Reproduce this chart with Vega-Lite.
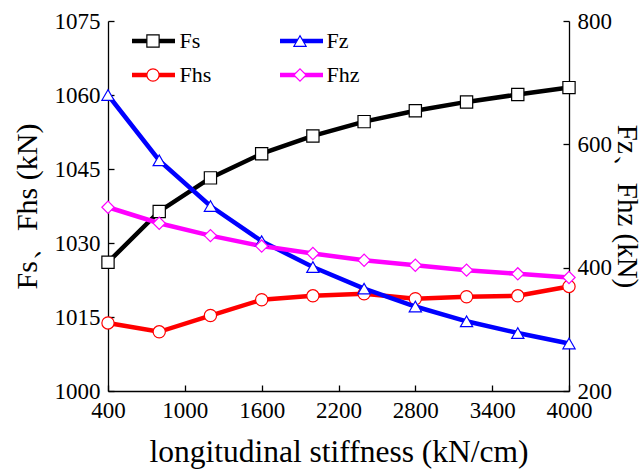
{
  "$schema": "https://vega.github.io/schema/vega-lite/v6.json",
  "width": 461,
  "height": 370,
  "autosize": {"type": "none"},
  "padding": {"left": 108, "top": 21, "right": 75, "bottom": 79},
  "background": "white",
  "config": {
    "view": {"stroke": null},
    "font": "Liberation Serif, Times New Roman, serif",
    "axis": {
      "grid": false,
      "domainColor": "black",
      "domainWidth": 1.3,
      "tickColor": "black",
      "tickWidth": 1.3,
      "tickSize": -6,
      "labelColor": "black",
      "labelFont": "Liberation Serif, Times New Roman, serif",
      "labelFontSize": 23,
      "labelPadding": 14,
      "labelFlush": false,
      "labelOverlap": false,
      "format": "d",
      "titleFont": "Liberation Serif, Times New Roman, serif",
      "titleFontSize": 30,
      "titleFontWeight": "normal",
      "titleColor": "black"
    }
  },
  "data": {
    "values": [
      {"stiffness": 400, "series": "Fs", "axis": "L", "value": 1026.1},
      {"stiffness": 800, "series": "Fs", "axis": "L", "value": 1036.4},
      {"stiffness": 1200, "series": "Fs", "axis": "L", "value": 1043.2},
      {"stiffness": 1600, "series": "Fs", "axis": "L", "value": 1048.1},
      {"stiffness": 2000, "series": "Fs", "axis": "L", "value": 1051.7},
      {"stiffness": 2400, "series": "Fs", "axis": "L", "value": 1054.6},
      {"stiffness": 2800, "series": "Fs", "axis": "L", "value": 1056.8},
      {"stiffness": 3200, "series": "Fs", "axis": "L", "value": 1058.6},
      {"stiffness": 3600, "series": "Fs", "axis": "L", "value": 1060.1},
      {"stiffness": 4000, "series": "Fs", "axis": "L", "value": 1061.5},
      {"stiffness": 400, "series": "Fhs", "axis": "L", "value": 1013.8},
      {"stiffness": 800, "series": "Fhs", "axis": "L", "value": 1012.0},
      {"stiffness": 1200, "series": "Fhs", "axis": "L", "value": 1015.3},
      {"stiffness": 1600, "series": "Fhs", "axis": "L", "value": 1018.5},
      {"stiffness": 2000, "series": "Fhs", "axis": "L", "value": 1019.3},
      {"stiffness": 2400, "series": "Fhs", "axis": "L", "value": 1019.7},
      {"stiffness": 2800, "series": "Fhs", "axis": "L", "value": 1018.7},
      {"stiffness": 3200, "series": "Fhs", "axis": "L", "value": 1019.1},
      {"stiffness": 3600, "series": "Fhs", "axis": "L", "value": 1019.3},
      {"stiffness": 4000, "series": "Fhs", "axis": "L", "value": 1021.2},
      {"stiffness": 400, "series": "Fz", "axis": "R", "value": 680},
      {"stiffness": 800, "series": "Fz", "axis": "R", "value": 574},
      {"stiffness": 1200, "series": "Fz", "axis": "R", "value": 500},
      {"stiffness": 1600, "series": "Fz", "axis": "R", "value": 443},
      {"stiffness": 2000, "series": "Fz", "axis": "R", "value": 401},
      {"stiffness": 2400, "series": "Fz", "axis": "R", "value": 366},
      {"stiffness": 2800, "series": "Fz", "axis": "R", "value": 337},
      {"stiffness": 3200, "series": "Fz", "axis": "R", "value": 313},
      {"stiffness": 3600, "series": "Fz", "axis": "R", "value": 294},
      {"stiffness": 4000, "series": "Fz", "axis": "R", "value": 277},
      {"stiffness": 400, "series": "Fhz", "axis": "R", "value": 498},
      {"stiffness": 800, "series": "Fhz", "axis": "R", "value": 472},
      {"stiffness": 1200, "series": "Fhz", "axis": "R", "value": 452},
      {"stiffness": 1600, "series": "Fhz", "axis": "R", "value": 435},
      {"stiffness": 2000, "series": "Fhz", "axis": "R", "value": 423},
      {"stiffness": 2400, "series": "Fhz", "axis": "R", "value": 412},
      {"stiffness": 2800, "series": "Fhz", "axis": "R", "value": 404},
      {"stiffness": 3200, "series": "Fhz", "axis": "R", "value": 396},
      {"stiffness": 3600, "series": "Fhz", "axis": "R", "value": 390},
      {"stiffness": 4000, "series": "Fhz", "axis": "R", "value": 384}
    ]
  },
  "encoding": {
    "x": {
      "field": "stiffness",
      "type": "quantitative",
      "scale": {"domain": [400, 4000], "nice": false, "zero": false},
      "axis": {
        "values": [400, 1000, 1600, 2200, 2800, 3400, 4000],
        "title": "longitudinal stiffness (kN/cm)",
        "titleFontSize": 31.5,
        "titlePadding": 14
      }
    }
  },
  "layer": [
    {
      "transform": [{"filter": "datum.axis === 'L'"}],
      "encoding": {
        "y": {
          "field": "value",
          "type": "quantitative",
          "scale": {"domain": [1000, 1075], "nice": false, "zero": false},
          "axis": {
            "orient": "left",
            "values": [1000, 1015, 1030, 1045, 1060, 1075],
            "title": "Fs、Fhs (kN)",
            "titlePadding": 12
          }
        }
      },
      "layer": [
        {
          "mark": {"type": "line", "strokeWidth": 4.5},
          "encoding": {
            "color": {
              "field": "series",
              "type": "nominal",
              "scale": {"domain": ["Fs", "Fz", "Fhs", "Fhz"], "range": ["#000000", "#0000ff", "#ff0000", "#ff00ff"]},
              "legend": {
                "orient": "none", "legendX": 9, "legendY": 9, "direction": "horizontal", "columns": 2,
                "values": ["Fs", "Fz", "Fhs", "Fhz"], "title": null, "padding": 0,
                "symbolType": "stroke", "symbolSize": 1849, "symbolStrokeWidth": 4.5,
                "clipHeight": 22, "symbolOffset": 12.5, "labelOffset": 3,
                "labelFont": "Liberation Serif, Times New Roman, serif", "labelFontSize": 22, "labelOpacity": 0,
                "columnPadding": 52, "rowPadding": 12
              }
            }
          }
        },
        {
          "mark": {"type": "point", "filled": false, "fill": "white", "strokeWidth": 1.2, "size": 150, "opacity": 1},
          "encoding": {
            "shape": {
              "field": "series", "type": "nominal",
              "scale": {"range": ["circle", "diamond", "square", "triangle-up"]},
              "legend": {
                "orient": "none", "legendX": 9, "legendY": 9, "direction": "horizontal", "columns": 2,
                "values": ["Fs", "Fz", "Fhs", "Fhz"], "title": null, "padding": 0,
                "symbolSize": 150, "symbolStrokeWidth": 1.2, "symbolFillColor": "white",
                "clipHeight": 22, "symbolOffset": 25, "labelOffset": 15.5,
                "labelFont": "Liberation Serif, Times New Roman, serif", "labelFontSize": 22, "labelColor": "black",
                "columnPadding": 52, "rowPadding": 12
              }
            },
            "stroke": {
              "field": "series", "type": "nominal",
              "scale": {"range": ["#ff0000", "#ff00ff", "#000000", "#0000ff"]},
              "legend": {
                "orient": "none", "legendX": 9, "legendY": 9, "direction": "horizontal", "columns": 2,
                "values": ["Fs", "Fz", "Fhs", "Fhz"], "title": null, "padding": 0,
                "symbolSize": 150, "symbolStrokeWidth": 1.2, "symbolFillColor": "white",
                "clipHeight": 22, "symbolOffset": 25, "labelOffset": 15.5,
                "labelFont": "Liberation Serif, Times New Roman, serif", "labelFontSize": 22, "labelColor": "black",
                "columnPadding": 52, "rowPadding": 12
              }
            }
          }
        }
      ]
    },
    {
      "transform": [{"filter": "datum.axis === 'R'"}],
      "encoding": {
        "y": {
          "field": "value",
          "type": "quantitative",
          "scale": {"domain": [200, 800], "nice": false, "zero": false},
          "axis": {
            "orient": "right",
            "values": [200, 400, 600, 800],
            "title": "Fz、Fhz (kN)",
            "titleFontSize": 29,
            "titlePadding": 0
          }
        }
      },
      "layer": [
        {
          "mark": {"type": "line", "strokeWidth": 4.5},
          "encoding": {
            "color": {"field": "series", "type": "nominal"}
          }
        },
        {
          "mark": {"type": "point", "filled": false, "fill": "white", "strokeWidth": 1.2, "size": 150, "opacity": 1},
          "encoding": {
            "shape": {"field": "series", "type": "nominal"},
            "stroke": {"field": "series", "type": "nominal"}
          }
        }
      ]
    }
  ],
  "resolve": {"scale": {"y": "independent"}}
}
